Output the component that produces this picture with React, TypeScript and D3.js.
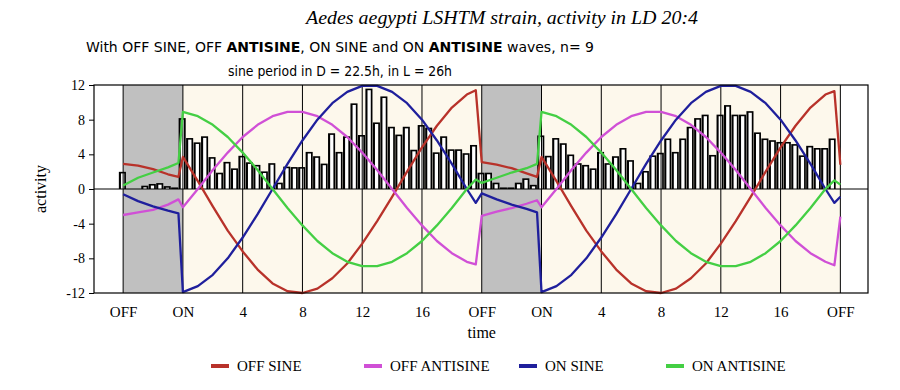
import { useEffect, useRef } from 'react';
import * as d3 from 'd3';

// activity in LD 20:4, two days, time in hours from the first lights OFF
const tickHours = [0, 4, 8, 12, 16, 20, 24, 28, 32, 36, 40, 44, 48];
const tickLabels = ['OFF', 'ON', '4', '8', '12', '16', 'OFF', 'ON', '4', '8', '12', '16', 'OFF'];
const yTicks = [-12, -8, -4, 0, 4, 8, 12];

const darkPeriods = [[0, 4], [24, 28]];
const lightPeriods = [[4, 24], [28, 48]];

// half-hour bins, first bin sits on the first OFF
const activity = [
  1.9, 0, 0, 0.3, 0.5, 0.6, 0.25, 0.1,
  8.1, 5.8, 5.3, 6.0, 3.6, 1.8, 3.05, 2.3,
  3.75, 3.0, 2.7, 1.95, 2.9, 0.65, 2.5, 2.45,
  2.45, 4.2, 3.7, 2.85, 6.35, 4.2, 6.0, 9.8,
  6.15, 11.5, 7.6, 10.6, 7.1, 6.2, 7.1, 4.45,
  7.3, 7.0, 4.15, 6.0, 4.5, 4.5, 4.05, 5.0,
  1.8, 1.8, 0.65, 0.1, 0.1, 0.65, 1.15, 0.4,
  6.1, 3.75, 5.8, 5.2, 3.9, 2.9, 2.7, 2.3,
  4.2, 2.9, 3.7, 4.65, 3.25, 0.65, 2.0, 3.8,
  4.1, 5.75, 4.2, 5.75, 7.1, 8.1, 8.5, 3.85,
  8.5, 9.6, 8.5, 8.5, 8.9, 6.45, 5.75, 5.55,
  5.35, 5.35, 5.1, 3.8, 4.9, 4.65, 4.65, 5.75,
];

const lineHours = [
  0, 1, 2, 3, 3.7,
  4, 5, 6, 7, 8, 9, 10, 11, 12, 13, 14, 15, 16, 17, 18, 19, 20, 21, 22, 23, 23.6,
  24, 25, 26, 27, 27.7,
  28, 29, 30, 31, 32, 33, 34, 35, 36, 37, 38, 39, 40, 41, 42, 43, 44, 45, 46, 47, 47.6,
  48,
];

const offSine = [
  2.9, 2.7, 2.3, 1.7, 1.4,
  3.7, 0.9, -2.0, -4.8, -7.2, -9.3, -10.9, -11.8, -12.0, -11.5, -10.3, -8.6, -6.3, -3.7, -0.9, 2.0, 4.8, 7.3, 9.4, 10.9, 11.4,
  3.1, 2.8, 2.4, 1.8, 1.4,
  3.7, 0.9, -2.0, -4.8, -7.2, -9.3, -10.9, -11.8, -12.0, -11.5, -10.3, -8.6, -6.3, -3.7, -0.9, 2.0, 4.8, 7.3, 9.4, 10.9, 11.3,
  2.8,
];

const offAntisine = [
  -3.0, -2.7, -2.4, -1.8, -1.2,
  -2.1, 0.0, 2.2, 4.2, 6.0, 7.4, 8.4, 8.9, 8.9, 8.4, 7.4, 6.0, 4.2, 2.2, 0.0, -2.2, -4.2, -6.0, -7.4, -8.4, -8.7,
  -3.1, -2.6, -2.2, -1.7, -1.3,
  -2.1, 0.0, 2.2, 4.2, 6.0, 7.4, 8.4, 8.9, 8.9, 8.4, 7.4, 6.0, 4.2, 2.2, 0.0, -2.2, -4.2, -6.0, -7.4, -8.4, -8.8,
  -3.2,
];

const onSine = [
  -0.6, -1.4, -2.0, -2.5, -2.8,
  -11.9, -11.2, -9.9, -8.0, -5.6, -2.9, 0.0, 2.9, 5.6, 8.0, 9.9, 11.2, 11.9, 11.9, 11.2, 9.9, 8.0, 5.6, 2.9, 0.0, -1.6,
  -0.5, -1.2, -1.8, -2.3, -2.7,
  -11.9, -11.2, -9.9, -8.0, -5.6, -2.9, 0.0, 2.9, 5.6, 8.0, 9.9, 11.2, 11.9, 11.9, 11.2, 9.9, 8.0, 5.6, 2.9, 0.0, -1.6,
  -0.9,
];

const onAntisine = [
  0.4, 1.3, 1.9, 2.5, 3.0,
  8.9, 8.4, 7.4, 6.0, 4.2, 2.2, 0.0, -2.2, -4.2, -6.0, -7.4, -8.4, -8.9, -8.9, -8.4, -7.4, -6.0, -4.2, -2.2, 0.0, 1.1,
  0.7, 1.3, 1.9, 2.4, 2.9,
  8.9, 8.4, 7.4, 6.0, 4.2, 2.2, 0.0, -2.2, -4.2, -6.0, -7.4, -8.4, -8.9, -8.9, -8.4, -7.4, -6.0, -4.2, -2.2, 0.0, 1.0,
  0.5,
];

const seriesNames = ['OFF SINE', 'OFF ANTISINE', 'ON SINE', 'ON ANTISINE'];
const seriesValues = [offSine, offAntisine, onSine, onAntisine];
const seriesColors = ['#b8322a', '#d050d6', '#1f1f9c', '#44cf44'];

const SERIF = '"Liberation Serif", "Times New Roman", serif';
const NARROW = '"Liberation Sans Narrow", "DejaVu Sans Condensed", "Liberation Sans", sans-serif';

export default function App() {
  const svgRef = useRef<SVGSVGElement>(null);

  useEffect(() => {
    const width = 900;
    const height = 390;
    const plot = { left: 94, right: 868, top: 85, bottom: 293 };

    const svg = d3.select(svgRef.current);
    svg.selectAll('*').remove();
    svg.attr('width', width).attr('height', height).attr('viewBox', `0 0 ${width} ${height}`);

    const x = d3.scaleLinear().domain([-1.95, 49.85]).range([plot.left, plot.right]);
    const y = d3.scaleLinear().domain([-12, 12]).range([plot.bottom, plot.top]);

    svg.append('rect').attr('width', width).attr('height', height).attr('fill', '#fff');

    // light / dark backgrounds
    svg.selectAll('.light')
      .data(lightPeriods)
      .join('rect')
      .attr('x', (d) => x(d[0]))
      .attr('y', plot.top)
      .attr('width', (d) => x(d[1]) - x(d[0]))
      .attr('height', plot.bottom - plot.top)
      .attr('fill', '#fdf8ec');

    svg.selectAll('.dark')
      .data(darkPeriods)
      .join('rect')
      .attr('x', (d) => x(d[0]))
      .attr('y', plot.top)
      .attr('width', (d) => x(d[1]) - x(d[0]))
      .attr('height', plot.bottom - plot.top)
      .attr('fill', '#c0c0c0');

    // activity bars: black body with a white face inset
    const binW = x(0.5) - x(0);
    const bins = activity.map((v, i) => ({ v, t: 0.5 * i - 0.05 })).filter((d) => d.v > 0);
    const bars = svg.append('g');
    bars.selectAll('.body')
      .data(bins)
      .join('rect')
      .attr('x', (d) => x(d.t) - binW / 2 + 0.2)
      .attr('y', (d) => y(d.v) - 0.7)
      .attr('width', binW - 0.4)
      .attr('height', (d) => y(0) - y(d.v) + 0.7)
      .attr('fill', '#000');
    bars.selectAll('.face')
      .data(bins.filter((d) => y(0) - y(d.v) > 2))
      .join('rect')
      .attr('x', (d) => x(d.t) - binW / 2 + 2.3)
      .attr('y', (d) => y(d.v) + 0.9)
      .attr('width', binW - 4.2)
      .attr('height', (d) => y(0) - y(d.v) - 0.9)
      .attr('fill', '#fff');

    // vertical hour lines and zero line
    svg.append('g')
      .selectAll('line')
      .data(tickHours)
      .join('line')
      .attr('x1', (d) => x(d))
      .attr('x2', (d) => x(d))
      .attr('y1', plot.top)
      .attr('y2', plot.bottom)
      .attr('stroke', '#000')
      .attr('stroke-width', 1);

    svg.append('line')
      .attr('x1', plot.left)
      .attr('x2', plot.right)
      .attr('y1', y(0))
      .attr('y2', y(0))
      .attr('stroke', '#000')
      .attr('stroke-width', 1);

    // fitted waves
    const line = d3.line<number>()
      .x((_, i) => x(lineHours[i]))
      .y((d) => y(d));

    svg.append('g')
      .selectAll('path')
      .data(seriesValues)
      .join('path')
      .attr('d', (d) => line(d))
      .attr('fill', 'none')
      .attr('stroke', (_, i) => seriesColors[i])
      .attr('stroke-width', 2.3)
      .attr('stroke-linejoin', 'round');

    svg.append('rect')
      .attr('x', plot.left)
      .attr('y', plot.top)
      .attr('width', plot.right - plot.left)
      .attr('height', plot.bottom - plot.top)
      .attr('fill', 'none')
      .attr('stroke', '#000')
      .attr('stroke-width', 1.2);

    // axes
    const yAxis = svg.append('g')
      .attr('transform', `translate(${plot.left},0)`)
      .call(d3.axisLeft(y).tickValues(yTicks).tickFormat((d) => String(d)).tickSize(5).tickPadding(4));
    yAxis.select('.domain').remove();
    yAxis.selectAll('text').style('font-family', SERIF).style('font-size', '14px').attr('fill', '#000');

    const xAxis = svg.append('g')
      .attr('transform', `translate(0,${plot.bottom})`)
      .call(d3.axisBottom(x).tickValues(tickHours).tickFormat((_, i) => tickLabels[i]).tickSize(0).tickPadding(13));
    xAxis.select('.domain').remove();
    xAxis.selectAll('text').style('font-family', SERIF).style('font-size', '15px').attr('fill', '#000');

    svg.append('text')
      .attr('transform', `translate(46,${y(0)}) rotate(-90)`)
      .attr('text-anchor', 'middle')
      .style('font-family', SERIF)
      .style('font-size', '16px')
      .text('activity');

    svg.append('text')
      .attr('x', x(24))
      .attr('y', 338)
      .attr('text-anchor', 'middle')
      .style('font-family', SERIF)
      .style('font-size', '16px')
      .text('time');

    // titles
    svg.append('text')
      .attr('x', 306)
      .attr('y', 24)
      .attr('textLength', 392)
      .attr('lengthAdjust', 'spacingAndGlyphs')
      .style('font-family', SERIF)
      .style('font-style', 'italic')
      .style('font-size', '18px')
      .text('Aedes aegypti LSHTM strain, activity in LD 20:4');

    const sub = svg.append('text')
      .attr('x', 86)
      .attr('y', 52)
      .attr('textLength', 508)
      .attr('lengthAdjust', 'spacingAndGlyphs')
      .style('font-family', NARROW)
      .style('font-size', '14px');
    sub.append('tspan').text('With OFF SINE, OFF ');
    sub.append('tspan').attr('font-weight', 'bold').text('ANTISINE');
    sub.append('tspan').text(', ON SINE and ON ');
    sub.append('tspan').attr('font-weight', 'bold').text('ANTISINE');
    sub.append('tspan').text(' waves, n= 9');

    svg.append('text')
      .attr('x', 228)
      .attr('y', 76)
      .attr('textLength', 224)
      .attr('lengthAdjust', 'spacingAndGlyphs')
      .style('font-family', NARROW)
      .style('font-size', '14px')
      .text('sine period in D = 22.5h, in L = 26h');

    // legend
    const legendX = [211, 364, 519, 666];
    const legend = svg.append('g')
      .selectAll('g')
      .data(seriesNames)
      .join('g')
      .attr('transform', (_, i) => `translate(${legendX[i]},366)`);
    legend.append('line')
      .attr('x1', 0)
      .attr('x2', 18)
      .attr('stroke', (_, i) => seriesColors[i])
      .attr('stroke-width', 4);
    legend.append('text')
      .attr('x', 26)
      .attr('y', 5)
      .style('font-family', SERIF)
      .style('font-size', '15px')
      .text((d) => d);
  }, []);

  return <svg ref={svgRef} style={{ position: 'absolute', left: 0, top: 0, display: 'block' }} />;
}
